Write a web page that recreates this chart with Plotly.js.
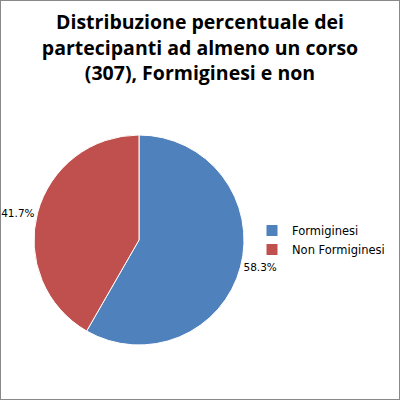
<!DOCTYPE html>
<html>
<head>
<meta charset="utf-8">
<script src="https://cdn.plot.ly/plotly-3.0.1.min.js"></script>
<style>html,body{margin:0;padding:0;background:#fff;}#chart{width:400px;height:400px;}</style>
</head>
<body>
<div id="chart"></div>
<script>
const categories = ["Formiginesi", "Non Formiginesi"];
const counts = [179, 128];
const colors = ["#4F81BD", "#C0504D"];
const titleText = "Distribuzione percentuale dei<br>partecipanti ad almeno un corso<br>(307), Formiginesi e non";

const data = [{
  type: "pie",
  labels: categories,
  values: counts,
  sort: false,
  direction: "clockwise",
  rotation: 0,
  marker: {colors: colors, line: {color: "#ffffff", width: 1}},
  textposition: "outside",
  texttemplate: "%{percent:.1%}",
  textfont: {family: "DejaVu Sans", size: 10.5, color: "#000"},
  hoverinfo: "label+percent",
  domain: {x: [0.085, 0.61], y: [0.1375, 0.6625]},
  automargin: false
}];

const layout = {
  width: 400, height: 400,
  margin: {l: 0, r: 0, t: 0, b: 0},
  paper_bgcolor: "#ffffff",
  title: {
    text: titleText,
    font: {family: "Open Sans, sans-serif", size: 19.5, color: "#000", weight: "bold"},
    x: 0.5, xanchor: "center", xref: "paper",
    y: 0.927, yanchor: "top", yref: "container"
  },
  showlegend: true,
  legend: {
    x: 0.63, xanchor: "left", y: 0.4, yanchor: "middle",
    font: {family: "DejaVu Sans", size: 11.5, color: "#000"},
    bgcolor: "rgba(0,0,0,0)"
  },
  shapes: [{
    type: "rect", xref: "paper", yref: "paper",
    x0: 0, x1: 1, y0: 0, y1: 1,
    line: {color: "#898989", width: 2}
  }]
};

Plotly.newPlot("chart", data, layout, {displayModeBar: false, staticPlot: true});
</script>
</body>
</html>
